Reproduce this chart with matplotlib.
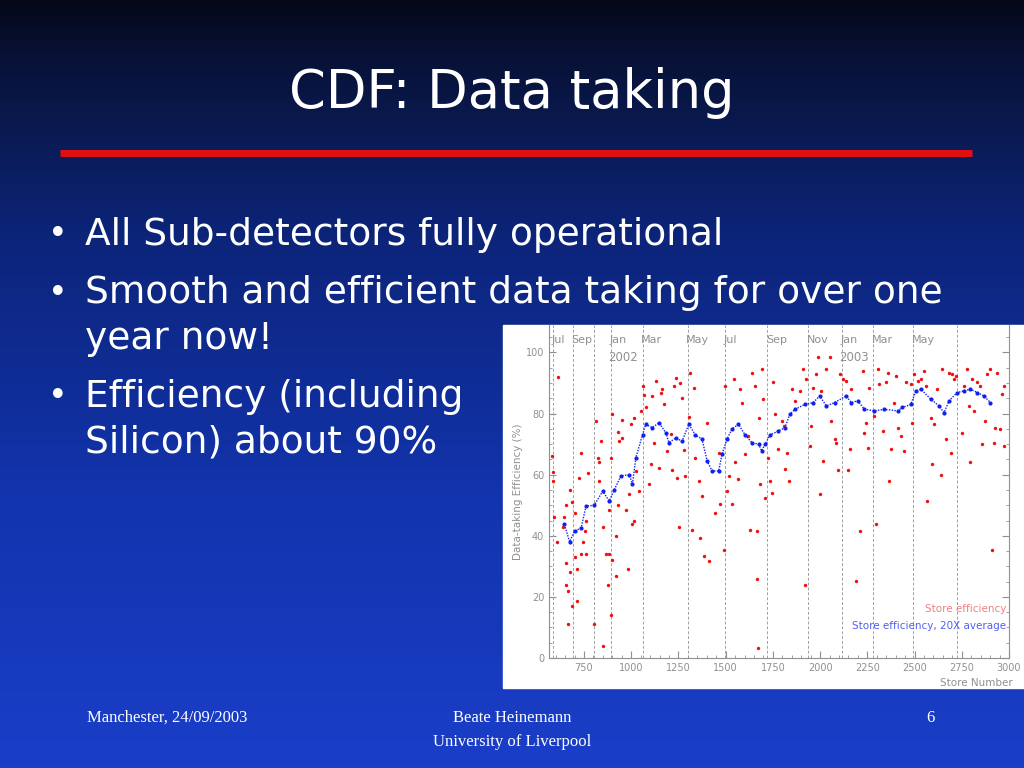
import numpy as np
import matplotlib
matplotlib.use("Agg")
import matplotlib.pyplot as plt
from matplotlib.colors import LinearSegmentedColormap
from matplotlib.ticker import MultipleLocator

title = "CDF: Data taking"
bullets = ["All Sub-detectors fully operational",
           "Smooth and efficient data taking for over one\nyear now!",
           "Efficiency (including\nSilicon) about 90%"]

red_x = [581,586,584,590,612,607,639,647,656,656,656,665,665,674,674,686,686,700,700,712,712,726,735,735,744,754,761,770,761,
         805,814,823,831,831,840,849,849,866,876,884,884,893,893,901,901,919,919,928,928,937,954,954,972,981,990,998,1007,1016,1016,
         1025,1042,1051,1060,1069,1077,1095,1104,1112,1121,1130,1147,1156,1165,1174,1191,1209,1218,1226,1235,1244,1251,1261,1270,
         1279,1286,1305,1314,1321,1331,1340,1358,1366,1375,1384,1402,1410,1445,1463,1472,1490,1498,1507,1516,1533,1542,1551,1568,
         1577,1586,1603,1621,1630,1639,1656,1665,1665,1670,1674,1682,1691,1700,1709,1726,1735,1744,1753,1761,1779,1796,1809,1814,
         1826,1835,1849,1867,1893,1910,1919,1928,1945,1954,1963,1981,1989,1998,2007,2016,2033,2051,2059,2077,2086,2095,2103,2121,
         2138,2147,2156,2165,2191,2209,2226,2235,2244,2253,2261,2288,2296,2305,2314,2331,2349,2358,2366,2375,2393,2402,2410,2428,
         2445,2454,2480,2489,2498,2516,2533,2551,2560,2568,2586,2595,2603,2621,2638,2647,2665,2683,2691,2700,2709,2718,2753,2761,
         2779,2788,2796,2805,2814,2832,2849,2858,2875,2884,2902,2911,2919,2928,2937,2954,2963,2972,2972]
red_y = [66,61,58,46,92,38,43,46,50,31,24,22,11,28,55,51,17,47.5,33,29,18.6,59,67,34,38,41.5,45,60.6,34,
         11,77.6,65.6,64,58,71,43,3.8,34,24,34,48.6,65.6,14,80,32,40,27,50,74,71,72,78,48.6,29,53.6,76.5,43.7,78.7,44.8,
         61.2,54.6,81,89,86,82,56.8,63.4,85.8,70.5,90.7,62.3,86.9,88,83,67.8,73.2,61.7,89,91.8,59,43,90,85.2,
         68,59.6,79,93.4,42,88.5,65.6,58,39.3,53,33.3,77,31.7,47.5,67.2,50.3,35.5,89,54.6,59.6,50.3,91.3,64,58.5,
         88,83.6,66.7,72.7,42,93.4,89,41.5,25.7,3.3,78.7,56.8,94.5,84.7,52.5,65.6,58,54,90.2,79.8,68.3,77.6,76,61.8,
         67,58,88,84.2,87.4,94.5,24,91.3,69.4,76,88.5,92.9,98.4,53.6,87.4,64.5,94.5,98.4,77.6,71.6,70.5,61.7,92.9,91.3,
         90.7,61.7,68.3,88,25.1,41.5,94,73.8,77,68.9,88.5,79.2,43.7,94.5,89.6,74.3,90.2,93.4,58,68.3,83.6,92.3,75.4,72.7,
         67.8,90.2,89.6,77,92.9,90.7,91.3,94,89,51.4,78.7,63.4,76.5,88,60,94.5,71.6,93.4,67.2,92.9,91.3,92.3,73.8,89,
         94.5,82.5,64,91.3,80.9,90.2,89,70,77.6,92.9,94.5,35.5,70.5,75.4,93.4,74.9,86.3,69.4,89]

blue_x = [647,674,700,735,761,805,849,884,910,946,990,1007,1025,1060,1077,1112,1147,1183,1200,1235,1270,1305,1340,1375,
          1402,1428,1463,1481,1507,1533,1568,1603,1639,1674,1691,1709,1735,1779,1814,1840,1867,1919,1963,1998,2033,2077,
          2138,2165,2200,2235,2288,2340,2410,2436,2480,2507,2533,2586,2630,2656,2683,2726,2761,2796,2832,2867,2902]
blue_y = [43.7,38,41.5,42.6,49.7,50,54.6,51.4,55,59.6,60,57,65.6,73,76.5,75.4,77,73.8,70.5,72,71,76.5,73,71.6,
          64.5,61.2,61.2,66.7,71.6,74.9,76.5,73,70.5,70,67.8,70,73,74.3,75.4,79.8,81.4,83,83.6,85.8,82.5,83.6,
          85.8,83.6,84.2,81.4,80.9,81.4,80.9,82,83,87.4,88,84.7,82.5,80.3,84.2,86.9,87.4,88,86.9,85.8,83.6]

month_x = [586,691,805,893,1060,1300,1498,1721,1937,2117,2282,2493,2726]
month_lbl = ["Jul","Sep","","Jan","Mar","May","Jul","Sep","Nov","Jan","Mar","May",""]
year_x = [893,2117]
year_lbl = ["2002","2003"]

fig = plt.figure(figsize=(10.24,7.68), dpi=100)
bg = fig.add_axes([0,0,1,1])
cmap = LinearSegmentedColormap.from_list("bg", [(0,"#040818"),(0.07,"#081236"),(0.3,"#0c2478"),(0.65,"#1234ae"),(1,"#1a3ec8")])
bg.imshow(np.linspace(0,1,256)[:,None], aspect="auto", cmap=cmap, extent=[0,1,0,1], origin="upper")
bg.set_xlim(0,1); bg.set_ylim(0,1); bg.axis("off")

fig.text(0.5, 1-93/768, title, color="white", fontsize=38, ha="center", va="center")
bg.plot([60/1024, 972/1024], [1-153/768]*2, color="#e01010", lw=5, solid_capstyle="butt")

ys = [235, 293, 397]
for b, y in zip(bullets, ys):
    fig.text(48/1024, 1-y/768, "•", color="white", fontsize=24, ha="left", va="center")
    for i, ln in enumerate(b.split("\n")):
        fig.text(85/1024, 1-(y+i*46)/768, ln, color="white", fontsize=27, ha="left", va="center")

bg.add_patch(plt.Rectangle((503/1024, 1-688/768), 521/1024, 363/768, color="white", zorder=2))
ax = fig.add_axes([549/1024, 1-658/768, 460/1024, 333/768])
ax.set_xlim(565, 3000); ax.set_ylim(0, 109)
gray = "#909090"
for mx, ml in zip(month_x, month_lbl):
    ax.axvline(mx, color="#a0a0a0", ls=(0,(3,2)), lw=0.7, zorder=1)
    ax.text(mx-8, 104, ml, color=gray, fontsize=8, ha="left", va="center")
for yx, yl in zip(year_x, year_lbl):
    ax.text(yx-15, 98.5, yl, color=gray, fontsize=8.5, ha="left", va="center")
ax.scatter(red_x, red_y, s=6, color="#ee1010", zorder=3, linewidths=0)
ax.plot(blue_x, blue_y, color="#1020ee", lw=1.0, ls=(0,(1,1)), marker="o", ms=3, markeredgewidth=0, zorder=4)
ax.text(2985, 16, "Store efficiency", color="#f08080", fontsize=7.5, ha="right", va="center")
ax.text(2985, 10.5, "Store efficiency, 20X average", color="#5060f0", fontsize=7.5, ha="right", va="center")
ax.xaxis.set_minor_locator(MultipleLocator(50))
ax.yaxis.set_major_locator(MultipleLocator(20)); ax.yaxis.set_minor_locator(MultipleLocator(5))
ax.set_xticks([750,1000,1250,1500,1750,2000,2250,2500,2750,3000])
ax.tick_params(which="both", direction="in", colors=gray, labelsize=7, top=False, right=True)
ax.tick_params(which="major", length=5); ax.tick_params(which="minor", length=2.5)
for s in ax.spines.values(): s.set_color(gray); s.set_linewidth(0.8)
ax.spines["top"].set_visible(False)
ax.set_ylabel("Data-taking Efficiency (%)", color=gray, fontsize=7.5, labelpad=2)
fig.text(1013/1024, 1-683/768, "Store Number", color=gray, fontsize=7.5, ha="right", va="center")

ft = dict(color="white", fontsize=12, family="Liberation Serif", va="center")
fig.text(87/1024, 1-718/768, "Manchester, 24/09/2003", ha="left", **ft)
fig.text(512/1024, 1-718/768, "Beate Heinemann", ha="center", **ft)
fig.text(512/1024, 1-742/768, "University of Liverpool", ha="center", **ft)
fig.text(930/1024, 1-718/768, "6", ha="center", **ft)

fig.savefig("out.png", dpi=100)
